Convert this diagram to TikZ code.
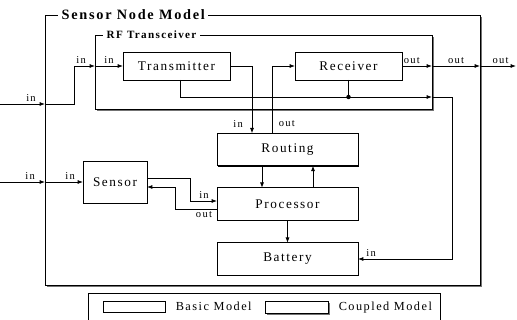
\documentclass[tikz,border=0pt]{standalone}
\usepackage{fontspec}
\setmainfont{Liberation Serif}[LetterSpace=12]
\usetikzlibrary{arrows.meta,positioning,calc,shadows}
\tikzset{
  basic/.style={draw, fill=white, line width=0.7pt, outer sep=0pt,
                minimum height=0.84cm, minimum width=3.21cm,
                font=\fontsize{11.3}{13}\selectfont,
                drop shadow={shadow xshift=1.1pt, shadow yshift=-1.1pt,
                             opacity=1, fill=black}},
  wide/.style={minimum width=4.23cm, minimum height=0.97cm},
  coupled/.style={draw, fill=white, line width=0.7pt, outer sep=0pt,
                  drop shadow={shadow xshift=1.6pt, shadow yshift=-1.6pt,
                               opacity=1, fill=black!55}},
  title/.style={fill=white, inner xsep=3pt, inner ysep=1pt, anchor=west},
  port/.style={font=\fontsize{9}{10}\selectfont, inner sep=1.5pt},
  arr/.style={-{Latex[length=1.6mm,width=1.2mm]}, line width=0.7pt},
  wire/.style={line width=0.7pt}
}
\begin{document}
\begin{tikzpicture}[x=0.03cm, y=-0.03cm]
\useasboundingbox (0,0) rectangle (517,320);
% coupled models
\node[coupled, minimum width=13.05cm, minimum height=8.1cm] (snm) at (262.5,150) {};
\node[title, font=\fontsize{12.2}{14}\selectfont\bfseries] (snmt)
  at ($(snm.north west)+(13,0)$) {Sensor Node Model};
\node[coupled, minimum width=10.11cm, minimum height=2.22cm] (rf) at (263.5,72) {};
\node[title, font=\fontsize{9.5}{11}\selectfont\bfseries] (rft)
  at ($(rf.north west)+(8,0)$) {RF Transceiver};
% basic models
\node[basic] (tx) at (176.5,66) {Transmitter};
\node[basic] (rx) at (348.5,66) {Receiver};
\node[basic, wide] (rout) at (287.5,149.5) {Routing};
\node[basic, wide] (proc) at (287.5,204) {Processor};
\node[basic, wide] (bat) at (287.5,259) {Battery};
\node[basic, minimum width=1.92cm, minimum height=1.26cm] (sens) at (115,182) {Sensor};
% outer ports
\coordinate (in1) at (0,104);
\coordinate (in2) at (0,182);
\coordinate (out1) at (516,66);
\coordinate (bus) at ($(rf.east)+(0,25)$);
% couplings
\draw[arr] (in1) -- (in1 -| snm.west) node[port, above, pos=0.69] {in};
\draw[arr] (in1 -| snm.west) -- ++(29,0) |- (tx.west -| rf.west)
  node[port, above, pos=0.67] {in};
\draw[arr] (tx.west -| rf.west) -- (tx.west) node[port, above, midway] {in};
\draw[arr] (tx.east) -| ($(rout.north)+(-35.5,0)$) node[port, left=6pt, pos=0.93] {in};
\draw[arr] ($(rout.north)+(-15.5,0)$) |- (rx.west) node[port, right=4pt, pos=0.07] {out};
\draw[arr] ($(tx.south)+(4,0)$) |- (bus);
\draw[wire] (rx.south) -- (rx.south |- bus);
\fill (rx.south |- bus) circle (1.9pt);
\draw[arr] (bus) -- ++(20,0) |- (bat.east) node[port, above, pos=0.93] {in};
\draw[arr] (rx.east) -- (rx.east -| rf.east) node[port, above, pos=0.33] {out};
\draw[arr] (rx.east -| rf.east) -- (rx.east -| snm.east) node[port, above, midway] {out};
\draw[arr] (rx.east -| snm.east) -- (out1) node[port, above, pos=0.57] {out};
\draw[arr] (in2) -- (in2 -| snm.west) node[port, above, pos=0.67] {in};
\draw[arr] (in2 -| snm.west) -- (sens.west) node[port, above, pos=0.66] {in};
\draw[arr] ($(sens.east)+(0,-4)$) -- ++(43,0) |- ($(proc.west)+(0,-3)$)
  node[port, above, pos=0.76] {in};
\draw[arr] ($(proc.west)+(0,5)$) -- ++(-42,0) node[port, below, pos=0.31] {out}
  |- ($(sens.east)+(0,5)$);
\draw[arr] ($(rout.south)+(-25.5,0)$) -- ($(proc.north)+(-25.5,0)$);
\draw[arr] ($(proc.north)+(25.5,0)$) -- ($(rout.south)+(25.5,0)$);
\draw[arr] (proc) -- (bat);
% legend
\draw[wire] (88,322) |- (440,293) -- (440,322);
\node[basic, minimum width=1.86cm, minimum height=0.33cm] (lbasic) at (134,306.5) {};
\node[right=2mm of lbasic, font=\fontsize{10.5}{12}\selectfont] (lbasict) {Basic Model};
\node[coupled, minimum width=1.89cm, minimum height=0.36cm] (lcoup) at (296.5,307.5) {};
\node[right=2mm of lcoup, font=\fontsize{10.5}{12}\selectfont] (lcoupt) {Coupled Model};
\end{tikzpicture}
\end{document}
